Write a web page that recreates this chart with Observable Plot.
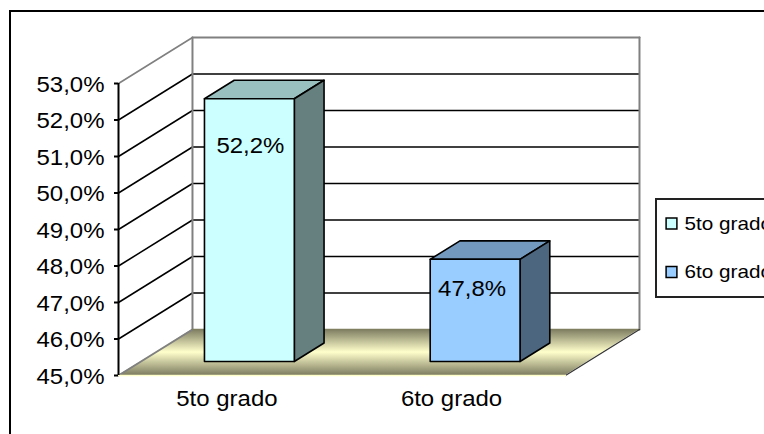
<!DOCTYPE html>
<html>
<head>
<meta charset="utf-8">
<style>
html,body{margin:0;padding:0;background:#fff;width:764px;height:434px;overflow:hidden}
#outer{position:absolute;left:9px;top:10px;width:900px;height:600px;border:2px solid #000;box-sizing:border-box}
#legendBox{position:absolute;left:655px;top:198px;width:300px;height:100px;border:2px solid #222;box-sizing:border-box;background:#fff}
#chart{position:absolute;left:0;top:0}
</style>
<script src="https://cdn.jsdelivr.net/npm/d3@7"></script>
<script src="https://cdn.jsdelivr.net/npm/@observablehq/plot@0.6"></script>
</head>
<body>
<div id="outer"></div>
<div id="legendBox"></div>
<div id="chart"></div>
<script>
const categories = ["5to grado", "6to grado"];
const values = [52.2, 47.8];
const valueLabels = ["52,2%", "47,8%"];
const yTicks = [45, 46, 47, 48, 49, 50, 51, 52, 53];

const frontColors = ["#CCFFFF", "#99CCFF"];
const topColors = ["#99BFBF", "#7399BF"];
const sideColors = ["#667F7F", "#4D6680"];

// oblique projection: depth d (0 front … 1 back) shifts a point right and up, in scale units
const DX = 0.331, DY = 1.26;
const FRONT = 0.304, BACK = 0.706, BAR_W = 0.402;
const xCenter = [0.485, 1.495];
const xTickPos = [0.485, 1.49];
const labelDx = [1, -3];
const labelDy = [47, 30];
const xMax = 2, yMin = 45, yMax = 53;
const TICK_LEN = 0.018;
const pt = (x, v, d) => ({x: x + d * DX, y: v + d * DY});

const poly = (points, fill) =>
  Plot.line([...points, points[0]], {x: "x", y: "y", fill, stroke: "#000", strokeWidth: 1.6, strokeLinejoin: "round"});
const seg = (a, b, stroke, strokeWidth) =>
  Plot.line([a, b], {x: "x", y: "y", stroke, strokeWidth});

const floorRows = [
  {y: yMin, x1: 0, x2: xMax},
  {y: yMin + DY, x1: DX, x2: xMax + DX}
];

const barMarks = categories.flatMap((c, i) => {
  const l = xCenter[i] - BAR_W / 2, r = xCenter[i] + BAR_W / 2, v = values[i];
  return [
    poly([pt(l, v, FRONT), pt(r, v, FRONT), pt(r, v, BACK), pt(l, v, BACK)], topColors[i]),
    poly([pt(r, yMin, FRONT), pt(r, v, FRONT), pt(r, v, BACK), pt(r, yMin, BACK)], sideColors[i]),
    poly([pt(l, yMin, FRONT), pt(r, yMin, FRONT), pt(r, v, FRONT), pt(l, v, FRONT)], frontColors[i]),
    Plot.text([valueLabels[i]], {
      x: () => xCenter[i] + FRONT * DX,
      y: () => v + FRONT * DY,
      dx: labelDx[i],
      dy: labelDy[i],
      text: d => d,
      fill: "#000"
    })
  ];
});

const legendMarks = categories.flatMap((c, i) => [
  Plot.dot([c], {frameAnchor: "top-left", dx: 553, dy: 140 + i * 48.5, symbol: "square", r: 6.1, fill: frontColors[i], stroke: "#000", strokeWidth: 1.5}),
  Plot.text([c], {frameAnchor: "top-left", lineAnchor: "middle", dx: 566, dy: 140 + i * 48.5, text: d => d, textAnchor: "start", fontSize: 19, fill: "#000"})
]);

const plot = Plot.plot({
  width: 764,
  height: 434,
  marginLeft: 118,
  marginRight: 199,
  marginTop: 83,
  marginBottom: 59,
  style: {background: "transparent", fontFamily: "'Liberation Sans', Arial, sans-serif", fontSize: "22px"},
  x: {domain: [0, xMax], axis: null},
  y: {domain: [yMin, yMax], axis: null},
  marks: [
    () => {
      const defs = d3.create("svg:defs");
      const g = defs.append("linearGradient").attr("id", "floorGrad").attr("x1", 0).attr("x2", 0).attr("y1", 0).attr("y2", 1);
      [[0, "#7d7c60"], [0.5, "#ffffcc"], [1, "#7d7c60"]].forEach(([o, c]) =>
        g.append("stop").attr("offset", o).attr("stop-color", c));
      return defs.node();
    },
    Plot.areaX(floorRows, {y: "y", x1: "x1", x2: "x2", fill: "url(#floorGrad)"}),
    // grid on back and side walls
    Plot.link(yTicks.slice(1, -1), {x1: () => 0, x2: () => DX, y1: d => d, y2: d => d + DY, stroke: "#000", strokeWidth: 1.5}),
    Plot.link(yTicks.slice(1, -1), {x1: () => DX, x2: () => xMax + DX, y1: d => d + DY, y2: d => d + DY, stroke: "#000", strokeWidth: 1.5}),
    // wall edges
    seg(pt(0, yMax, 0), pt(0, yMax, 1), "#808080", 1.6),
    seg(pt(0, yMax, 1), pt(xMax, yMax, 1), "#808080", 2),
    seg(pt(0, yMin, 1), pt(0, yMax, 1), "#808080", 2),
    seg(pt(xMax, yMin, 1), pt(xMax, yMax, 1), "#808080", 2),
    seg(pt(0, yMin, 0), pt(0, yMin, 1), "#808080", 2),
    seg(pt(0, yMin, 1), pt(xMax, yMin, 1), "#808060", 1.5),
    seg(pt(xMax, yMin, 0), pt(xMax, yMin, 1), "#333", 1.2),
    seg(pt(0, yMin, 0), pt(xMax, yMin, 0), "#ffffcc", 1.5),
    // y axis
    Plot.ruleX([0], {y1: () => yMin, y2: () => yMax, stroke: "#000", strokeWidth: 2}),
    Plot.ruleY(yTicks, {x1: () => -TICK_LEN, x2: () => 0, y: d => d, stroke: "#000", strokeWidth: 2}),
    Plot.axisY({
      anchor: "left",
      ticks: yTicks,
      tickSize: 0,
      tickPadding: 14,
      dy: 1,
      label: null,
      tickFormat: d => d.toFixed(1).replace(".", ",") + "%"
    }),
    Plot.axisX({
      anchor: "bottom",
      ticks: xTickPos,
      tickSize: 0,
      tickPadding: 15,
      label: null,
      tickFormat: (d, i) => categories[i]
    }),
    ...barMarks,
    ...legendMarks
  ]
});
document.getElementById("chart").appendChild(plot);

// the reference's text is stretched sideways; keep it real text and widen the glyphs
plot.querySelectorAll("text").forEach(t => {
  const w = t.getComputedTextLength();
  if (w > 0) {
    t.setAttribute("lengthAdjust", "spacingAndGlyphs");
    t.setAttribute("textLength", (w * 1.09).toFixed(1));
  }
});
</script>
</body>
</html>
